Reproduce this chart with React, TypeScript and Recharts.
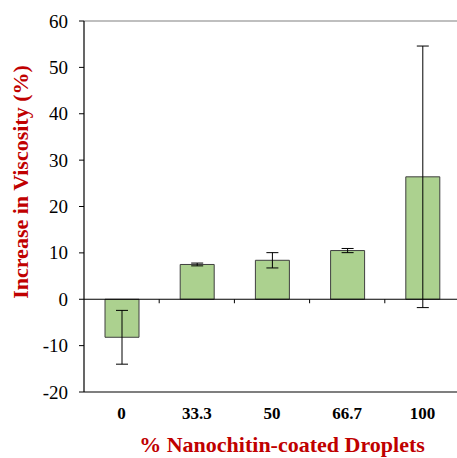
import React from 'react';
import { Bar, BarChart, ErrorBar, ReferenceLine, XAxis, YAxis, Label } from 'recharts';

const categories = ['0', '33.3', '50', '66.7', '100'];
const viscosityIncrease = [-8.2, 7.5, 8.4, 10.5, 26.4];
const errors = [5.8, 0.3, 1.65, 0.45, 28.2];
const yTicks = [-20, -10, 0, 10, 20, 30, 40, 50, 60];

const data = categories.map((name, i) => ({ name, value: viscosityIncrease[i], err: errors[i] }));

const serif = 'Liberation Serif';
const red = '#c00000';

function ZeroLine(props: any) {
  const { x1, y1, x2, y2 } = props;
  const band = (x2 - x1) / categories.length;
  return (
    <g>
      <line x1={x1} y1={y1} x2={x2 + 10} y2={y2} stroke="#000" strokeWidth={1.2} />
      {categories.slice(1).map((_, i) => (
        <line key={i} x1={x1 + band * (i + 1)} y1={y1} x2={x1 + band * (i + 1)} y2={y1 + 4} stroke="#000" strokeWidth={1} />
      ))}
    </g>
  );
}

function YTick(props: any) {
  const { x, y, payload } = props;
  return (
    <text x={x} y={y} textAnchor="end" dominantBaseline="central" style={{ fontFamily: serif, fontSize: 19 }} fill="#000">
      {payload.value}
    </text>
  );
}

export default function App() {
  return (
    <div style={{ position: 'absolute', left: 0, top: 0, width: 457, height: 458, overflow: 'hidden', background: '#fff', fontFamily: serif }}>
      <BarChart width={460} height={458} data={data} margin={{ top: 21, right: 0, left: 0, bottom: 36 }} barCategoryGap={0} style={{ fontFamily: serif }}>
        <XAxis
          dataKey="name"
          height={30}
          axisLine={{ stroke: '#000', strokeWidth: 1.2 }}
          tickLine={false}
          tick={{ fontFamily: serif, fontSize: 17, fontWeight: 'bold', fill: '#000' }}
          tickMargin={9}
        >
          <Label
            content={() => (
              <text x={282} y={452} textAnchor="middle" style={{ fontFamily: serif }} fontSize={22} fontWeight="bold" fill={red}>
                % Nanochitin-coated Droplets
              </text>
            )}
          />
        </XAxis>
        <YAxis
          width={84}
          domain={[-20, 60]}
          ticks={yTicks}
          interval={0}
          axisLine={{ stroke: '#000', strokeWidth: 1.2 }}
          tickLine={{ stroke: '#000' }}
          tickSize={5}
          tickMargin={11}
          tick={<YTick />}
        >
          <Label
            content={() => (
              <text
                x={23}
                y={182}
                transform="rotate(-90 23 182)"
                textAnchor="middle"
                dominantBaseline="middle"
                style={{ fontFamily: serif }}
                fontSize={22}
                fontWeight="bold"
                fill={red}
              >
                Increase in Viscosity (%)
              </text>
            )}
          />
        </YAxis>
        <ReferenceLine y={60} stroke="#808080" strokeWidth={1.2} />
        <Bar dataKey="value" fill="#acd18f" stroke="#3f3f3f" strokeWidth={1} barSize={34} isAnimationActive={false}>
          <ErrorBar dataKey="err" width={6} stroke="#000" strokeWidth={1} />
        </Bar>
        <ReferenceLine y={0} shape={ZeroLine} />
      </BarChart>
    </div>
  );
}
